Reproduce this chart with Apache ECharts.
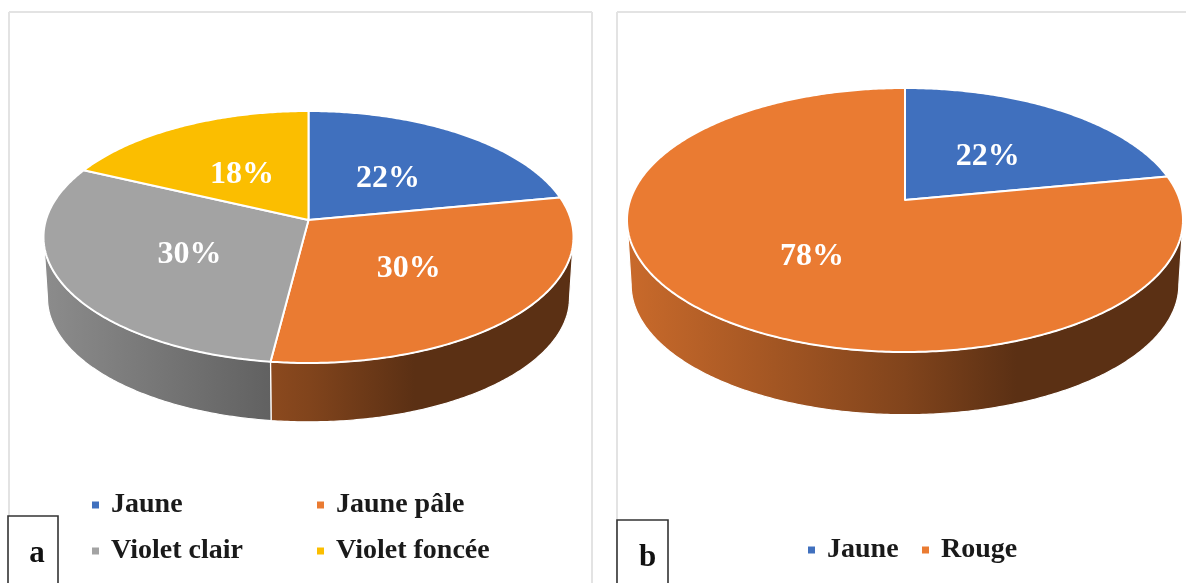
<!DOCTYPE html>
<html>
<head>
<meta charset="utf-8">
<style>html,body{margin:0;padding:0;background:#fff}#chart{width:1186px;height:583px}</style>
<script src="https://cdn.jsdelivr.net/npm/echarts@6/dist/echarts.min.js"></script>
</head>
<body>
<div id="chart"></div>
<script>
// Panel a: colour classes
const categoriesA = ['Jaune', 'Jaune pâle', 'Violet clair', 'Violet foncée'];
const valuesA = [22, 30, 30, 18];
const colorsA = ['#4070BE', '#EA7B32', '#A3A3A3', '#FBBE00'];

// Panel b: colour classes
const categoriesB = ['Jaune', 'Rouge'];
const valuesB = [22, 78];
const colorsB = ['#4070BE', '#EA7B32'];

// Perspective disc geometry: apex, width and the distance of far/near rims from the apex
const discA = { cx: 308.5, cy: 220, far: 109, near: 143, halfWidth: 265, depth: 61 };
const discB = { cx: 905, cy: 200, far: 112, near: 152, halfWidth: 278, depth: 65 };

const SERIF = '"Liberation Serif", "Times New Roman", serif';
const WALL_SHRINK = 0.985;
const WALL_SHADE = [[0, 0.86], [0.5, 0.55], [0.7, 0.39], [1, 0.39]];
const LABEL_DROP = 4;

// Derives the projective constants of a disc from its rim distances
function projection(d) {
  const k = (d.near - d.far) / (d.near + d.far);
  return { k, a: d.far * (1 + k), c: d.halfWidth * Math.sqrt(1 - k * k) };
}

// Maps polar position on the unit disc (clockwise from 12 o'clock) onto the screen
function project(d, angle, r, drop, scale) {
  const p = projection(d);
  const x = r * Math.sin(angle), y = r * Math.cos(angle);
  const w = 1 + p.k * y;
  return [d.cx + scale * p.c * x / w, d.cy + drop - scale * p.a * y / w];
}

function shade(hex, f) {
  const n = parseInt(hex.slice(1), 16);
  const ch = [n >> 16, (n >> 8) & 255, n & 255].map(v => Math.round(v * f));
  return 'rgb(' + ch.join(',') + ')';
}

function arc(d, from, to, drop, scale) {
  const steps = Math.max(2, Math.ceil(Math.abs(to - from) * 90));
  const pts = [];
  for (let i = 0; i <= steps; i++) {
    pts.push(project(d, from + (to - from) * i / steps, 1, drop, scale));
  }
  return pts;
}

// One series per slice: side wall where it faces the viewer, top face, percentage label
function sliceSeries(name, values, index, color, disc) {
  const total = values.reduce((s, v) => s + v, 0);
  const before = values.slice(0, index).reduce((s, v) => s + v, 0);
  return {
    type: 'custom',
    name: name,
    coordinateSystem: 'none',
    itemStyle: { color: color },
    silent: true,
    data: [values[index]],
    renderItem: function (params, api) {
      const value = api.value(0);
      const start = before / total * Math.PI * 2;
      const end = (before + value) / total * Math.PI * 2;
      const children = [];

      // The wall is only visible on the near half, between the widest points of the rim
      const p = projection(disc);
      const wallFrom = Math.max(start, Math.PI / 2 + Math.asin(p.k));
      const wallTo = Math.min(end, Math.PI * 1.5 - Math.asin(p.k));
      if (wallTo > wallFrom) {
        const top = arc(disc, wallFrom, wallTo, 0, 1);
        const bottom = arc(disc, wallTo, wallFrom, disc.depth, WALL_SHRINK);
        children.push({
          type: 'polygon',
          shape: { points: top.concat(bottom) },
          style: {
            fill: new echarts.graphic.LinearGradient(
              disc.cx - disc.halfWidth, 0, disc.cx + disc.halfWidth, 0,
              WALL_SHADE.map(s => ({ offset: s[0], color: shade(color, s[1]) })),
              true
            ),
            stroke: '#fff',
            lineWidth: 1.2
          }
        });
      }

      children.push({
        type: 'polygon',
        shape: { points: [[disc.cx, disc.cy]].concat(arc(disc, start, end, 0, 1)) },
        style: { fill: color, stroke: '#fff', lineWidth: 2, lineJoin: 'round' }
      });

      const mid = project(disc, (start + end) / 2, 0.5, LABEL_DROP, 1);
      children.push({
        type: 'text',
        z2: 10,
        style: {
          text: Math.round(value / total * 100) + '%',
          x: mid[0], y: mid[1],
          fill: '#fff',
          font: 'bold 32px ' + SERIF,
          align: 'center',
          verticalAlign: 'middle'
        }
      });
      return { type: 'group', children: children };
    }
  };
}

function legendItem(name, left, top) {
  return {
    show: true,
    data: [{ name: name, icon: 'rect' }],
    left: left,
    top: top,
    padding: 0,
    itemWidth: 7,
    itemHeight: 7,
    selectedMode: false,
    textStyle: {
      color: '#1a1a1a',
      fontFamily: SERIF,
      fontWeight: 'bold',
      fontSize: 28,
      padding: [0, 0, 0, 7]
    }
  };
}

function frameLine(x1, y1, x2, y2) {
  return {
    type: 'line',
    shape: { x1, y1, x2, y2 },
    style: { stroke: '#e3e3e3', lineWidth: 2 }
  };
}

function tagBox(letter, x, y, w, h, shift) {
  return [
    {
      type: 'rect',
      shape: { x, y, width: w, height: h },
      style: { fill: '#fff', stroke: '#333', lineWidth: 1.6 }
    },
    {
      type: 'text',
      style: {
        text: letter,
        x: x + w / 2 + shift,
        y: y + 38,
        fill: '#111',
        font: 'bold 31px ' + SERIF,
        align: 'center',
        verticalAlign: 'middle'
      }
    }
  ];
}

const chart = echarts.init(document.getElementById('chart'), null, { renderer: 'canvas' });
chart.setOption({
  animation: false,
  backgroundColor: '#fff',
  legend: [
    legendItem(categoriesA[0], 92, 491),
    legendItem(categoriesA[1], 317, 491),
    legendItem(categoriesA[2], 92, 537),
    legendItem(categoriesA[3], 317, 537),
    legendItem(categoriesB[0], 808, 536),
    legendItem(categoriesB[1], 922, 536)
  ],
  graphic: [
    frameLine(9, 12, 592, 12),
    frameLine(9, 12, 9, 583),
    frameLine(592, 12, 592, 583),
    frameLine(617, 12, 1186, 12),
    frameLine(617, 12, 617, 583),
    ...tagBox('a', 8, 516, 50, 80, 4),
    ...tagBox('b', 617, 520, 51, 80, 5)
  ],
  series: [
    ...categoriesA.map((n, i) => sliceSeries(n, valuesA, i, colorsA[i], discA)),
    ...categoriesB.map((n, i) => sliceSeries(n, valuesB, i, colorsB[i], discB))
  ]
});
</script>
</body>
</html>
